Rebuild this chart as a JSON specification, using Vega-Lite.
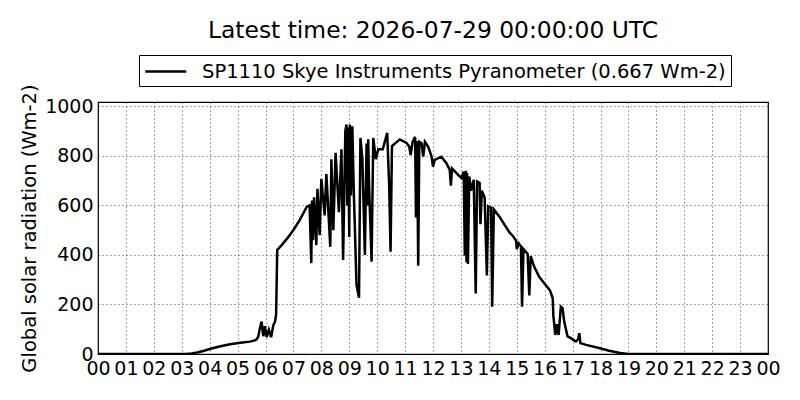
{
  "$schema": "https://vega.github.io/schema/vega-lite/v6.json",
  "width": 670,
  "height": 252,
  "autosize": {"type": "none"},
  "padding": {"left": 98, "top": 102, "right": 32, "bottom": 46},
  "background": "white",
  "title": {"text": "Latest time: 2026-07-29 00:00:00 UTC", "fontSize": 23.4, "fontWeight": "normal", "font": "DejaVu Sans", "color": "black", "offset": -7, "baseline": "alphabetic", "frame": "group"},
  "config": {
    "font": "DejaVu Sans",
    "view": {"stroke": "black", "strokeWidth": 1.2},
    "axis": {"gridColor": "black", "gridDash": [1, 3], "gridWidth": 0.8, "gridOpacity": 0.9, "domain": false, "ticks": false, "labelFontSize": 19, "labelColor": "black", "titleColor": "black", "titleFontWeight": "normal", "labelOverlap": false, "labelFlush": false}
  },
  "data": {"values": [
    {"t":0,"v":0},{"t":3.15,"v":0},{"t":3.35,"v":2},{"t":3.55,"v":6},{"t":3.8,"v":13},{"t":4.0,"v":20},{"t":4.35,"v":30},{"t":4.73,"v":39},{"t":5.1,"v":45},{"t":5.44,"v":50},{"t":5.62,"v":55},{"t":5.68,"v":59},{"t":5.74,"v":70},{"t":5.8,"v":105},{"t":5.86,"v":131},{"t":5.92,"v":72},{"t":5.98,"v":112},{"t":6.04,"v":68},{"t":6.12,"v":98},{"t":6.2,"v":68},{"t":6.28,"v":117},{"t":6.34,"v":130},{"t":6.38,"v":160},{"t":6.42,"v":420},{"t":6.58,"v":440},{"t":6.8,"v":470},{"t":7.0,"v":501},{"t":7.22,"v":540},{"t":7.48,"v":595},{"t":7.58,"v":600},{"t":7.64,"v":367},{"t":7.67,"v":620},{"t":7.7,"v":460},{"t":7.74,"v":633},{"t":7.82,"v":440},{"t":7.86,"v":667},{"t":7.94,"v":480},{"t":8.0,"v":707},{"t":8.12,"v":560},{"t":8.18,"v":727},{"t":8.32,"v":433},{"t":8.36,"v":787},{"t":8.43,"v":500},{"t":8.51,"v":813},{"t":8.63,"v":573},{"t":8.72,"v":827},{"t":8.78,"v":380},{"t":8.86,"v":900},{"t":8.9,"v":927},{"t":8.93,"v":600},{"t":8.96,"v":915},{"t":9.0,"v":473},{"t":9.02,"v":927},{"t":9.06,"v":640},{"t":9.11,"v":920},{"t":9.16,"v":667},{"t":9.26,"v":280},{"t":9.35,"v":227},{"t":9.4,"v":873},{"t":9.47,"v":787},{"t":9.56,"v":400},{"t":9.62,"v":850},{"t":9.65,"v":600},{"t":9.68,"v":867},{"t":9.71,"v":680},{"t":9.8,"v":373},{"t":9.86,"v":873},{"t":9.95,"v":787},{"t":10.04,"v":827},{"t":10.2,"v":827},{"t":10.36,"v":893},{"t":10.43,"v":680},{"t":10.48,"v":413},{"t":10.53,"v":840},{"t":10.81,"v":867},{"t":11.05,"v":853},{"t":11.15,"v":837},{"t":11.2,"v":804},{"t":11.27,"v":857},{"t":11.36,"v":877},{"t":11.39,"v":551},{"t":11.43,"v":860},{"t":11.47,"v":357},{"t":11.51,"v":857},{"t":11.59,"v":851},{"t":11.65,"v":797},{"t":11.71,"v":857},{"t":11.83,"v":837},{"t":11.95,"v":797},{"t":12.0,"v":757},{"t":12.06,"v":784},{"t":12.3,"v":797},{"t":12.48,"v":771},{"t":12.6,"v":744},{"t":12.64,"v":680},{"t":12.68,"v":750},{"t":12.9,"v":724},{"t":13.02,"v":711},{"t":13.1,"v":737},{"t":13.14,"v":397},{"t":13.18,"v":740},{"t":13.2,"v":371},{"t":13.22,"v":731},{"t":13.25,"v":364},{"t":13.3,"v":717},{"t":13.36,"v":660},{"t":13.46,"v":704},{"t":13.53,"v":244},{"t":13.58,"v":697},{"t":13.67,"v":691},{"t":13.7,"v":524},{"t":13.75,"v":660},{"t":13.85,"v":631},{"t":13.93,"v":317},{"t":13.98,"v":597},{"t":14.08,"v":591},{"t":14.12,"v":191},{"t":14.18,"v":584},{"t":14.38,"v":555},{"t":14.74,"v":491},{"t":14.86,"v":477},{"t":14.98,"v":457},{"t":15.0,"v":424},{"t":15.07,"v":447},{"t":15.15,"v":435},{"t":15.19,"v":191},{"t":15.24,"v":424},{"t":15.39,"v":404},{"t":15.45,"v":237},{"t":15.5,"v":395},{"t":15.63,"v":351},{"t":15.81,"v":311},{"t":16.05,"v":277},{"t":16.19,"v":257},{"t":16.29,"v":224},{"t":16.31,"v":157},{"t":16.38,"v":77},{"t":16.44,"v":120},{"t":16.5,"v":77},{"t":16.58,"v":191},{"t":16.64,"v":185},{"t":16.7,"v":131},{"t":16.82,"v":71},{"t":16.94,"v":64},{"t":17.05,"v":55},{"t":17.12,"v":51},{"t":17.2,"v":60},{"t":17.24,"v":84},{"t":17.28,"v":44},{"t":17.48,"v":37},{"t":17.95,"v":24},{"t":18.31,"v":13},{"t":18.7,"v":4},{"t":19.0,"v":0},{"t":24,"v":0}
  ]},
  "mark": {"type": "line", "strokeWidth": 2.5, "clip": true, "strokeJoin": "miter"},
  "encoding": {
    "x": {"field": "t", "type": "quantitative", "scale": {"domain": [0, 24], "nice": false}, "axis": {"title": null, "values": [0,1,2,3,4,5,6,7,8,9,10,11,12,13,14,15,16,17,18,19,20,21,22,23,24], "labelExpr": "datum.value == 24 ? '00' : (datum.value < 10 ? '0' + datum.value : '' + datum.value)", "labelPadding": 5}},
    "y": {"field": "v", "type": "quantitative", "scale": {"domain": [0, 1018], "nice": false}, "axis": {"title": "Global solar radiation (Wm-2)", "titleFontSize": 19.5, "format": "d", "values": [0,200,400,600,800,1000], "labelPadding": 5, "titlePadding": 5}},
    "color": {"datum": "SP1110 Skye Instruments Pyranometer (0.667 Wm-2)", "type": "nominal", "scale": {"range": ["black"]}, "legend": {"title": null, "orient": "none", "legendX": 41, "legendY": -47, "symbolType": "M-1,0H3", "symbolSize": 420, "symbolStrokeWidth": 2.5, "labelFontSize": 19.5, "labelLimit": 0, "labelColor": "black", "labelOffset": 35, "padding": 5, "strokeColor": "black", "fillColor": "white", "cornerRadius": 0}}
  }
}
